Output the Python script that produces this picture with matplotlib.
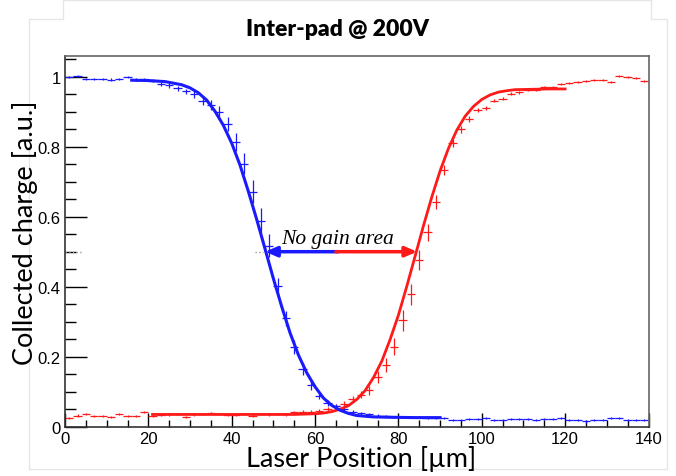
import matplotlib
matplotlib.use('Agg')
import matplotlib.pyplot as plt
from matplotlib.lines import Line2D
from matplotlib.ticker import MultipleLocator

# bin centres (um), 2 um bins
x_pos = [1, 3, 5, 7, 9, 11, 13, 15, 17, 19, 21, 23, 25, 27, 29, 31, 33, 35, 37, 39,
         41, 43, 45, 47, 49, 51, 53, 55, 57, 59, 61, 63, 65, 67, 69, 71, 73, 75, 77, 79,
         81, 83, 85, 87, 89, 91, 93, 95, 97, 99, 101, 103, 105, 107, 109, 111, 113, 115, 117, 119,
         121, 123, 125, 127, 129, 131, 133, 135, 137, 139]

blue_y = [1.000, 1.001, 0.994, 0.993, 0.993, 0.992, 0.993, 0.999, 0.991, 0.993,
          0.989, 0.980, 0.975, 0.967, 0.958, 0.950, 0.932, 0.920, 0.899, 0.865,
          0.813, 0.751, 0.672, 0.589, 0.517, 0.401, 0.310, 0.229, 0.165, 0.118,
          0.089, 0.068, 0.058, 0.050, 0.043, 0.038, 0.035, 0.032, 0.030, 0.028,
          0.028, 0.027, 0.027, 0.026, 0.026, 0.024, 0.020, 0.019, 0.021, 0.022,
          0.024, 0.020, 0.019, 0.023, 0.021, 0.022, 0.020, 0.022, 0.023, 0.025,
          0.020, 0.019, 0.015, 0.018, 0.019, 0.024, 0.024, 0.018, 0.018, 0.019]
blue_err = [0.003, 0.003, 0.003, 0.003, 0.003, 0.003, 0.003, 0.003, 0.004, 0.004,
            0.005, 0.006, 0.006, 0.007, 0.008, 0.010, 0.012, 0.014, 0.017, 0.020,
            0.025, 0.030, 0.033, 0.035, 0.033, 0.025, 0.022, 0.020, 0.016, 0.012,
            0.010, 0.008, 0.006, 0.005, 0.004, 0.004, 0.003, 0.003, 0.003, 0.003,
            0.003, 0.003, 0.003, 0.003, 0.003, 0.003, 0.003, 0.003, 0.003, 0.003,
            0.003, 0.003, 0.003, 0.003, 0.003, 0.003, 0.003, 0.003, 0.003, 0.003,
            0.003, 0.003, 0.003, 0.003, 0.003, 0.003, 0.003, 0.003, 0.003, 0.003]

red_y = [0.025, 0.032, 0.037, 0.031, 0.031, 0.028, 0.036, 0.030, 0.030, 0.041,
         0.031, 0.034, 0.035, 0.036, 0.027, 0.035, 0.036, 0.040, 0.036, 0.033,
         0.033, 0.037, 0.032, 0.036, 0.035, 0.036, 0.035, 0.041, 0.043, 0.043,
         0.046, 0.051, 0.058, 0.066, 0.080, 0.091, 0.104, 0.142, 0.177, 0.229,
         0.304, 0.379, 0.477, 0.555, 0.641, 0.734, 0.810, 0.850, 0.879, 0.906,
         0.910, 0.932, 0.937, 0.951, 0.955, 0.961, 0.961, 0.970, 0.970, 0.980,
         0.982, 0.984, 0.987, 0.991, 0.990, 0.986, 1.001, 0.999, 0.996, 0.989]
red_err = [0.003, 0.003, 0.003, 0.003, 0.003, 0.003, 0.003, 0.003, 0.003, 0.003,
           0.003, 0.003, 0.003, 0.003, 0.003, 0.003, 0.003, 0.003, 0.003, 0.003,
           0.003, 0.003, 0.003, 0.003, 0.003, 0.003, 0.003, 0.004, 0.004, 0.005,
           0.005, 0.006, 0.006, 0.007, 0.008, 0.010, 0.012, 0.016, 0.020, 0.025,
           0.030, 0.030, 0.028, 0.025, 0.020, 0.015, 0.012, 0.010, 0.008, 0.006,
           0.005, 0.005, 0.004, 0.004, 0.004, 0.003, 0.003, 0.003, 0.003, 0.003,
           0.003, 0.003, 0.003, 0.003, 0.003, 0.003, 0.003, 0.003, 0.003, 0.003]

# fitted curves
blue_fit_x = [16, 20, 24, 28, 30, 32, 34, 36, 38, 40, 42, 44, 46, 48, 50, 52, 54,
              56, 58, 60, 62, 64, 66, 68, 70, 74, 78, 84, 90]
blue_fit_y = [0.990, 0.989, 0.986, 0.977, 0.968, 0.954, 0.933, 0.901, 0.861, 0.810,
              0.747, 0.672, 0.592, 0.508, 0.423, 0.343, 0.268, 0.205, 0.154, 0.114,
              0.082, 0.061, 0.047, 0.038, 0.032, 0.028, 0.027, 0.026, 0.026]
red_fit_x = [21, 30, 40, 50, 55, 60, 62, 64, 66, 68, 70, 72, 74, 76, 78, 80, 82,
             84, 86, 88, 90, 92, 94, 96, 98, 100, 102, 104, 106, 108, 112, 116, 120]
red_fit_y = [0.035, 0.035, 0.035, 0.035, 0.035, 0.037, 0.039, 0.043, 0.050, 0.060,
             0.078, 0.103, 0.140, 0.187, 0.249, 0.319, 0.401, 0.487, 0.574, 0.656,
             0.731, 0.795, 0.847, 0.887, 0.915, 0.935, 0.948, 0.956, 0.960, 0.963,
             0.964, 0.965, 0.965]

BLUE = '#1a1aff'
RED = '#ff1a1a'

fig = plt.figure(figsize=(6.76, 4.77), dpi=100)
ax = fig.add_axes([65 / 676, 1 - 427.7 / 477, 583.5 / 676, 371 / 477])

ax.errorbar(x_pos, red_y, xerr=1, yerr=red_err, fmt='none', ecolor=RED, elinewidth=0.9)
ax.errorbar(x_pos, blue_y, xerr=1, yerr=blue_err, fmt='none', ecolor=BLUE, elinewidth=0.9)
ax.plot(red_fit_x, red_fit_y, color=RED, lw=2)
ax.plot(blue_fit_x, blue_fit_y, color=BLUE, lw=2.2)

# "no gain area" double arrow, blue half and red half
ax.plot([0, 4], [0.5, 0.5], color='#999999', lw=1, ls=':')
ax.plot([45.5, 47.5], [0.5, 0.5], color='#999999', lw=1, ls=':')
ax.annotate('', xy=(48, 0.5), xytext=(65.5, 0.5),
            arrowprops=dict(arrowstyle='-|>,head_length=0.7,head_width=0.3',
                            color=BLUE, lw=2.5, shrinkA=0, shrinkB=0))
ax.annotate('', xy=(84.5, 0.5), xytext=(65, 0.5),
            arrowprops=dict(arrowstyle='-|>,head_length=0.7,head_width=0.3',
                            color=RED, lw=2.5, shrinkA=0, shrinkB=0))
ax.text(65.5, 0.525, 'No gain area', ha='center', va='baseline', fontsize=15.5,
        family='Liberation Serif', style='italic')

ax.set_xlim(0, 140)
ax.set_ylim(0, 1.06)
ax.xaxis.set_major_locator(MultipleLocator(20))
ax.xaxis.set_minor_locator(MultipleLocator(5))
ax.yaxis.set_major_locator(MultipleLocator(0.2))
ax.yaxis.set_minor_locator(MultipleLocator(0.05))
ax.set_yticks([0, 0.2, 0.4, 0.6, 0.8, 1.0])
ax.set_yticklabels(['0', '0.2', '0.4', '0.6', '0.8', '1'])
ax.tick_params(axis='y', which='major', direction='in', length=16, width=1, pad=3)
ax.tick_params(axis='y', which='minor', direction='in', length=8, width=1)
ax.tick_params(axis='x', which='major', direction='in', length=10, width=1, pad=3)
ax.tick_params(axis='x', which='minor', direction='in', length=5, width=1)
for lab in ax.get_xticklabels() + ax.get_yticklabels():
    lab.set_family('Liberation Sans')
    lab.set_fontsize(12)
for side in ['left', 'bottom']:
    ax.spines[side].set_color('#333333')
    ax.spines[side].set_linewidth(1.2)
for side in ['top', 'right']:
    ax.spines[side].set_color('#666666')
    ax.spines[side].set_linewidth(1.2)

fig.text(338 / 676, 1 - 30 / 477, 'Inter-pad @ 200V', ha='center', va='center',
         fontsize=16.5, fontweight='heavy', family='Lato')
fig.text(361 / 676, 1 - 459 / 477, 'Laser Position [\u00b5m]', ha='center', va='center',
         fontsize=19.5, family='Lato')
fig.text(25 / 676, 1 - 233 / 477, 'Collected charge [a.u.]', ha='center', va='center',
         rotation=90, fontsize=19.5, family='Lato')

# faint slide frame around the picture
frame = dict(color='#e6e6e6', lw=1, transform=fig.transFigure)
W, H = 676.0, 477.0
fig.add_artist(Line2D([29 / W, 29 / W, 63 / W, 63 / W],
                      [1 - 470 / H, 1 - 19.5 / H, 1 - 19.5 / H, 1.0], **frame))
fig.add_artist(Line2D([29 / W, 667 / W, 667 / W, 651 / W, 651 / W],
                      [1 - 470 / H, 1 - 470 / H, 1 - 19.5 / H, 1 - 19.5 / H, 1.0], **frame))
fig.add_artist(Line2D([63 / W, 651 / W], [1 - 1 / H, 1 - 1 / H], **frame))

fig.savefig('out.png', dpi=100, facecolor='white')
